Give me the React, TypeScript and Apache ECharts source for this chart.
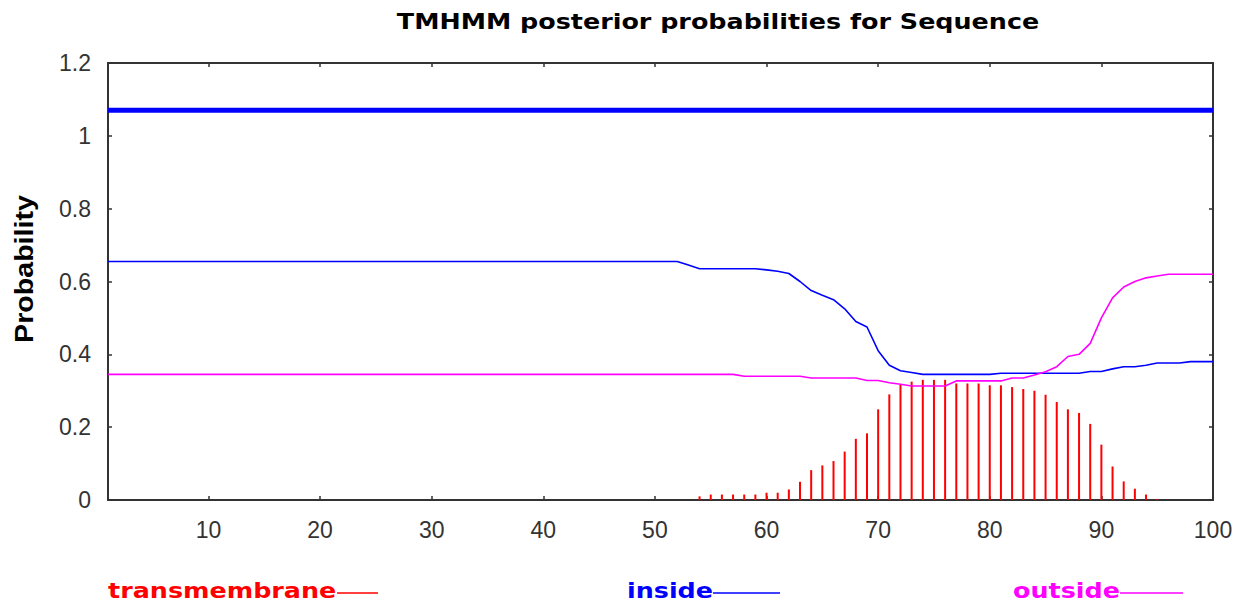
import React, { useEffect, useRef } from "react";
import * as echarts from "echarts";

const residues: number[] = Array.from({ length: 100 }, (_, i) => i + 1);

const xTickValues = [10, 20, 30, 40, 50, 60, 70, 80, 90, 100];

const insideProb = [
  0.655, 0.655, 0.655, 0.655, 0.655, 0.655, 0.655, 0.655, 0.655, 0.655,
  0.655, 0.655, 0.655, 0.655, 0.655, 0.655, 0.655, 0.655, 0.655, 0.655,
  0.655, 0.655, 0.655, 0.655, 0.655, 0.655, 0.655, 0.655, 0.655, 0.655,
  0.655, 0.655, 0.655, 0.655, 0.655, 0.655, 0.655, 0.655, 0.655, 0.655,
  0.655, 0.655, 0.655, 0.655, 0.655, 0.655, 0.655, 0.655, 0.655, 0.655,
  0.655, 0.655, 0.645, 0.635, 0.635, 0.635, 0.635, 0.635, 0.635, 0.632,
  0.628, 0.622, 0.6, 0.575, 0.562, 0.55, 0.525, 0.49, 0.475, 0.41,
  0.37, 0.355, 0.35, 0.345, 0.345, 0.345, 0.345, 0.345, 0.345, 0.345,
  0.348, 0.348, 0.348, 0.348, 0.348, 0.348, 0.348, 0.348, 0.353, 0.353,
  0.36, 0.366, 0.366, 0.37, 0.376, 0.376, 0.376, 0.38, 0.38, 0.38,
];

const outsideProb = [
  0.345, 0.345, 0.345, 0.345, 0.345, 0.345, 0.345, 0.345, 0.345, 0.345,
  0.345, 0.345, 0.345, 0.345, 0.345, 0.345, 0.345, 0.345, 0.345, 0.345,
  0.345, 0.345, 0.345, 0.345, 0.345, 0.345, 0.345, 0.345, 0.345, 0.345,
  0.345, 0.345, 0.345, 0.345, 0.345, 0.345, 0.345, 0.345, 0.345, 0.345,
  0.345, 0.345, 0.345, 0.345, 0.345, 0.345, 0.345, 0.345, 0.345, 0.345,
  0.345, 0.345, 0.345, 0.345, 0.345, 0.345, 0.345, 0.34, 0.34, 0.34,
  0.34, 0.34, 0.34, 0.335, 0.335, 0.335, 0.335, 0.335, 0.328, 0.328,
  0.322, 0.318, 0.313, 0.313, 0.313, 0.313, 0.327, 0.327, 0.327, 0.327,
  0.327, 0.335, 0.335, 0.343, 0.352, 0.366, 0.394, 0.4, 0.43, 0.5,
  0.555, 0.585, 0.6, 0.61, 0.615, 0.62, 0.62, 0.62, 0.62, 0.62,
];

const transmembraneProb = [
  0, 0, 0, 0, 0, 0, 0, 0, 0, 0,
  0, 0, 0, 0, 0, 0, 0, 0, 0, 0,
  0, 0, 0, 0, 0, 0, 0, 0, 0, 0,
  0, 0, 0, 0, 0, 0, 0, 0, 0, 0,
  0, 0, 0, 0, 0, 0, 0, 0, 0, 0,
  0, 0, 0, 0.01, 0.015, 0.015, 0.015, 0.015, 0.015, 0.02,
  0.02, 0.029, 0.05, 0.082, 0.095, 0.107, 0.133, 0.168, 0.183, 0.249,
  0.29, 0.316, 0.325, 0.33, 0.33, 0.33, 0.32, 0.32, 0.32, 0.315,
  0.315, 0.31, 0.305, 0.3, 0.289, 0.269, 0.249, 0.239, 0.209, 0.152,
  0.092, 0.051, 0.031, 0.015, 0.003, 0, 0, 0, 0, 0,
];

// predicted topology bar (whole sequence "inside")
const topologyLevel = 1.07;
const topologyRange = [1, 100];

const legendItems = [
  { name: "transmembrane", color: "#ff0000", x: 108, textW: 229, lineEnd: 378 },
  { name: "inside", color: "#0000ff", x: 627, textW: 86, lineEnd: 780 },
  { name: "outside", color: "#ff00ff", x: 1013, textW: 107, lineEnd: 1183 },
];

const titleText = "TMHMM posterior probabilities for Sequence";
const yAxisTitle = "Probability";

export default function App() {
  const ref = useRef<HTMLDivElement>(null);

  useEffect(() => {
    if (!ref.current) return;
    const chart = echarts.init(ref.current, null, { renderer: "svg" });
    const axisColor = "#333333";
    const labelFont = "Liberation Sans, Arial, sans-serif";
    const boldFont = "DejaVu Sans, Verdana, sans-serif";

    const legendGraphics: any[] = [];
    legendItems.forEach((it) => {
      legendGraphics.push({
        type: "text",
        x: it.x,
        y: 590,
        scaleX: 1.21,
        style: {
          text: it.name,
          fill: it.color,
          font: `bold 21px ${boldFont}`,
          textAlign: "left",
          textVerticalAlign: "middle",
        },
      });
      legendGraphics.push({
        type: "line",
        shape: { x1: it.x + it.textW, y1: 593, x2: it.lineEnd, y2: 593 },
        style: { stroke: it.color, lineWidth: 1.5 },
      });
    });

    const option: any = {
      animation: false,
      backgroundColor: "#ffffff",
      grid: { left: 108, right: 23, top: 63, bottom: 102, containLabel: false },
      xAxis: [
        {
          type: "value",
          min: 1,
          max: 100,
          position: "bottom",
          axisLine: { show: true, onZero: false, lineStyle: { color: axisColor, width: 2 } },
          axisTick: { show: true, inside: true, length: 4, customValues: xTickValues, lineStyle: { color: axisColor, width: 1.5 } },
          axisLabel: {
            show: true,
            customValues: xTickValues,
            margin: 18,
            color: "#333333",
            fontFamily: labelFont,
            fontSize: 23,
          },
          splitLine: { show: false },
        },
        {
          type: "value",
          min: 1,
          max: 100,
          position: "top",
          axisLine: { show: true, onZero: false, lineStyle: { color: axisColor, width: 2 } },
          axisTick: { show: true, inside: true, length: 4, customValues: xTickValues, lineStyle: { color: axisColor, width: 1.5 } },
          axisLabel: { show: false },
          splitLine: { show: false },
        },
      ],
      yAxis: [
        {
          type: "value",
          min: 0,
          max: 1.2,
          interval: 0.2,
          position: "left",
          axisLine: { show: true, onZero: false, lineStyle: { color: axisColor, width: 2 } },
          axisTick: { show: true, inside: true, length: 4, lineStyle: { color: axisColor, width: 1.5 } },
          axisLabel: {
            margin: 17,
            color: "#333333",
            fontFamily: labelFont,
            fontSize: 23,
          },
          splitLine: { show: false },
        },
        {
          type: "value",
          min: 0,
          max: 1.2,
          interval: 0.2,
          position: "right",
          axisLine: { show: true, onZero: false, lineStyle: { color: axisColor, width: 2 } },
          axisTick: { show: true, inside: true, length: 4, lineStyle: { color: axisColor, width: 1.5 } },
          axisLabel: { show: false },
          splitLine: { show: false },
        },
      ],
      graphic: [
        {
          type: "text",
          x: 718,
          y: 21,
          scaleX: 1.21,
          style: {
            text: titleText,
            fill: "#000000",
            font: `bold 21px ${boldFont}`,
            textAlign: "center",
            textVerticalAlign: "middle",
          },
        },
        {
          type: "text",
          x: 24,
          y: 269,
          rotation: Math.PI / 2,
          scaleX: 1.1,
          style: {
            text: yAxisTitle,
            fill: "#000000",
            font: `bold 26px ${labelFont}`,
            textAlign: "center",
            textVerticalAlign: "middle",
          },
        },
        ...legendGraphics,
      ],
      series: [
        {
          name: "transmembrane",
          type: "bar",
          xAxisIndex: 0,
          yAxisIndex: 0,
          barWidth: 2,
          itemStyle: { color: "#ff0000" },
          data: residues.map((r, i) => [r, transmembraneProb[i]]),
          z: 2,
        },
        {
          name: "inside",
          type: "line",
          xAxisIndex: 0,
          yAxisIndex: 0,
          showSymbol: false,
          symbol: "none",
          lineStyle: { color: "#0000ff", width: 1.6 },
          itemStyle: { color: "#0000ff" },
          data: residues.map((r, i) => [r, insideProb[i]]),
          z: 3,
        },
        {
          name: "outside",
          type: "line",
          xAxisIndex: 0,
          yAxisIndex: 0,
          showSymbol: false,
          symbol: "none",
          lineStyle: { color: "#ff00ff", width: 1.6 },
          itemStyle: { color: "#ff00ff" },
          data: residues.map((r, i) => [r, outsideProb[i]]),
          z: 3,
        },
        {
          name: "topology",
          type: "line",
          xAxisIndex: 0,
          yAxisIndex: 0,
          showSymbol: false,
          symbol: "none",
          lineStyle: { color: "#0000ff", width: 5 },
          data: topologyRange.map((r) => [r, topologyLevel]),
          z: 4,
        },
      ],
    };

    chart.setOption(option);
    return () => chart.dispose();
  }, []);

  return (
    <div
      ref={ref}
      style={{ position: "absolute", left: 0, top: 0, width: 1236, height: 602 }}
    />
  );
}
